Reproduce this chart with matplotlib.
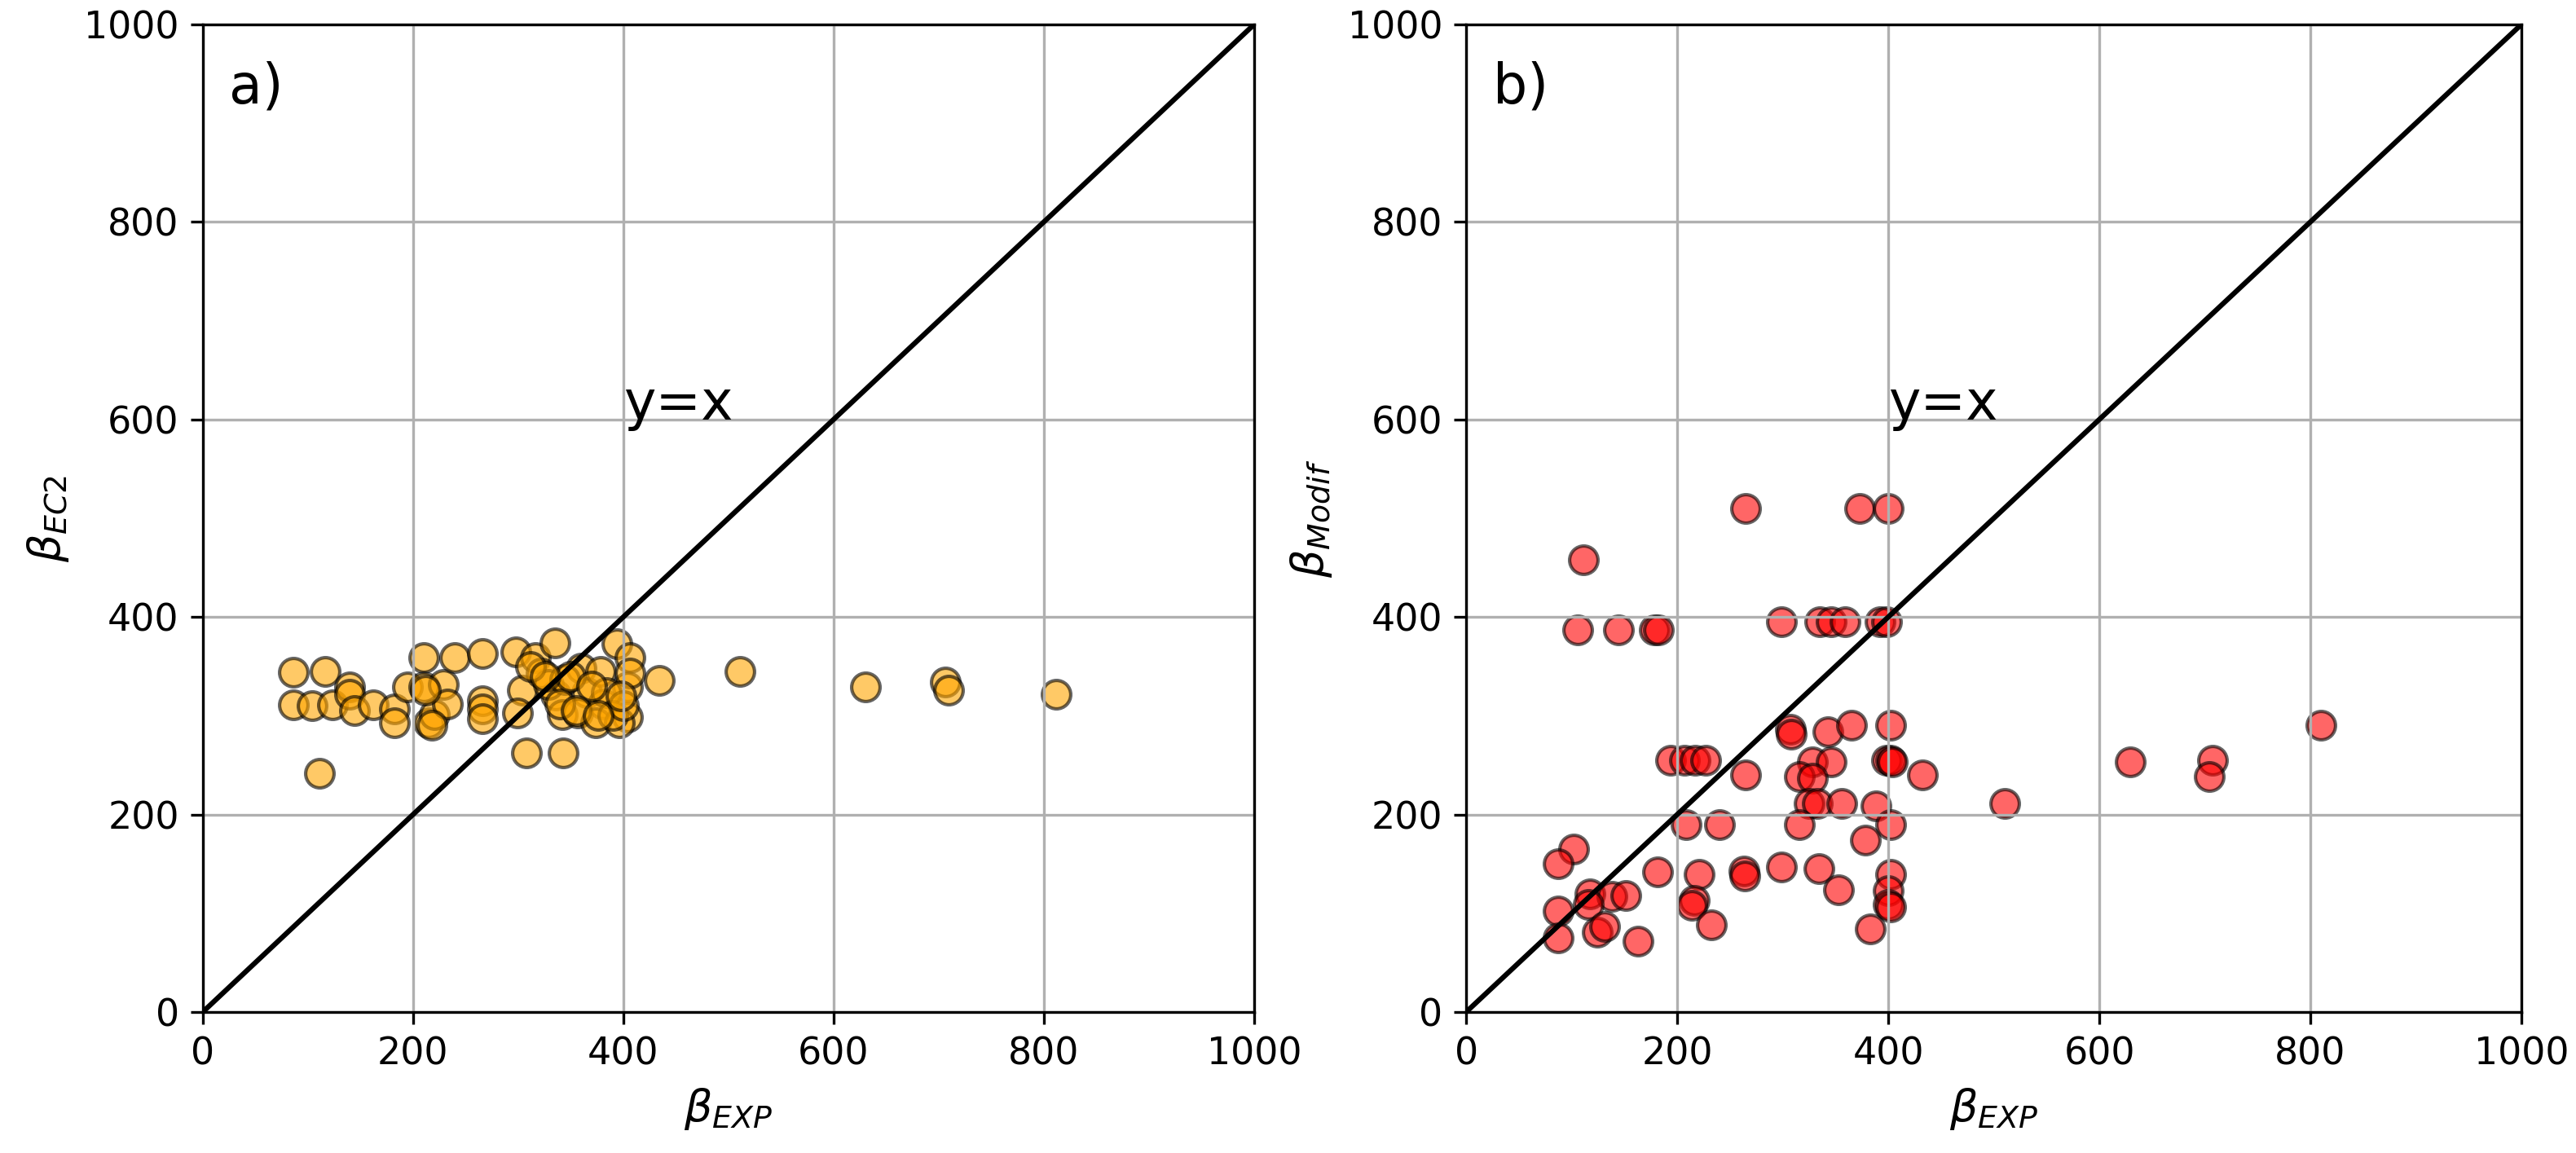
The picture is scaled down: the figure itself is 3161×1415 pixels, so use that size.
import matplotlib
matplotlib.use("Agg")
import matplotlib.pyplot as plt

# panel a) beta_EXP vs beta_EC2
exp_a = [86, 86, 116, 104, 123, 140, 140, 144, 162, 182, 182, 195, 210, 210, 215, 220,
         229, 233, 240, 266, 266, 266, 266, 298, 304, 299, 316, 308, 343, 335, 336, 342,
         360, 365, 357, 378, 381, 374, 394, 406, 404, 404, 396, 406, 434, 111, 322, 329,
         344, 340, 384, 511, 630, 706, 709, 812,
         350, 370, 390, 400, 398, 312, 326, 355, 376, 212, 218]
ec2_a = [344, 311, 345, 310, 311, 329, 322, 305, 311, 307, 293, 329, 359, 329, 293, 301,
         332, 312, 359, 363, 315, 307, 297, 365, 326, 303, 359, 262, 262, 374, 321, 301,
         348, 323, 303, 345, 312, 293, 373, 359, 329, 299, 293, 343, 336, 242, 343, 332,
         337, 312, 323, 345, 329, 334, 326, 322,
         340, 330, 300, 310, 320, 350, 340, 305, 300, 326, 290]

# panel b) beta_EXP vs beta_Modif
exp_b = [265, 373, 400, 111, 106, 144, 178, 182, 299, 335, 346, 359, 392, 398,
         307, 308, 343, 365, 402, 194, 207, 217, 227, 265, 328, 346, 316, 328,
         398, 402, 404, 432, 325, 333, 356, 388, 208, 240, 316, 402, 378, 102,
         87, 181, 221, 263, 264, 299, 334, 353, 402, 400, 400, 402, 383, 117,
         138, 151, 116, 87, 87, 124, 131, 163, 216, 214, 232, 510, 629, 707, 704, 810]
mod_b = [510, 510, 510, 458, 387, 387, 387, 387, 395, 395, 395, 395, 395, 395,
         286, 281, 284, 290, 290, 255, 255, 255, 255, 240, 253, 253, 238, 237,
         255, 255, 253, 240, 211, 211, 211, 209, 190, 190, 190, 190, 174, 165,
         150, 142, 139, 143, 138, 147, 145, 124, 139, 123, 109, 106, 84, 120,
         117, 118, 109, 102, 75, 81, 87, 72, 113, 108, 88, 211, 253, 255, 238, 290]

fig = plt.figure(figsize=(10.54, 4.7167), dpi=300)
ax1 = fig.add_axes([0.0787, 0.1223, 0.408, 0.8565])
ax2 = fig.add_axes([0.569, 0.1223, 0.4095, 0.8565])

panels = [
    (ax1, exp_a, ec2_a, 'orange', r'$\beta_{EC2}$', 'a)'),
    (ax2, exp_b, mod_b, 'red', r'$\beta_{Modif}$', 'b)'),
]

for ax, xs, ys, col, ylab, tag in panels:
    ax.scatter(xs, ys, s=70, c=col, alpha=0.6, edgecolors='black', linewidths=1)
    ax.plot([0, 1000], [0, 1000], color='black', lw=1.5)
    ax.text(400, 600, 'y=x', fontsize=16)
    ax.text(25, 920, tag, fontsize=16)
    ax.set_xlim(0, 1000)
    ax.set_ylim(0, 1000)
    ax.set_xticks([0, 200, 400, 600, 800, 1000])
    ax.set_yticks([0, 200, 400, 600, 800, 1000])
    ax.tick_params(labelsize=11)
    ax.set_xlabel(r'$\beta_{EXP}$', fontsize=13)
    ax.set_ylabel(ylab, fontsize=13)
    ax.grid(True)

fig.savefig('out.png', dpi=300)
